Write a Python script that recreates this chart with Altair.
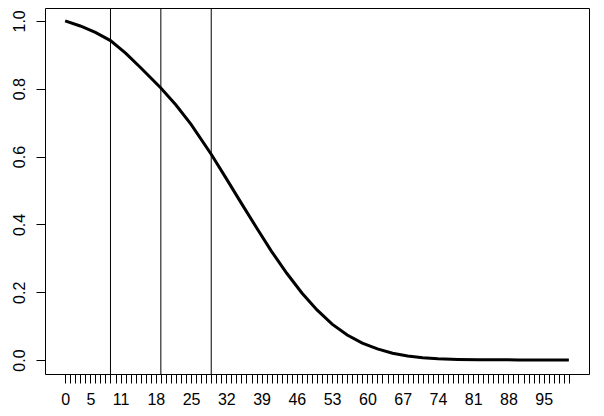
import altair as alt
import pandas as pd

# curve values
curve_x = [0, 3, 6, 9, 12, 15, 19, 22, 25, 29, 32, 35, 38, 41, 44, 47, 50, 53, 56, 59,
           62, 65, 68, 71, 74, 78, 82, 86, 90, 95, 100]
curve_y = [1.000, 0.985, 0.966, 0.942, 0.905, 0.862, 0.802, 0.752, 0.695, 0.607, 0.535,
           0.462, 0.390, 0.320, 0.256, 0.198, 0.148, 0.106, 0.074, 0.050, 0.033, 0.020,
           0.012, 0.007, 0.004, 0.002, 0.001, 0.001, 0.0005, 0.0003, 0.0]

vlines = [9, 19, 29]
x_ticks = list(range(0, 101))
x_labels = [0, 5, 11, 18, 25, 32, 39, 46, 53, 60, 67, 74, 81, 88, 95]
y_ticks = [0.0, 0.2, 0.4, 0.6, 0.8, 1.0]

curve_df = pd.DataFrame({"x": curve_x, "y": curve_y})
vline_df = pd.DataFrame({"x": vlines})

FONT = "Liberation Sans"

label_list = "[" + ",".join(str(v) for v in x_labels) + "]"

x_scale = alt.Scale(domain=[-4, 104], nice=False, zero=False)
y_scale = alt.Scale(domain=[-0.041, 1.038], nice=False, zero=False)

x_axis = alt.Axis(
    values=x_ticks, tickCount=500, format="d",
    labelExpr=f"indexof({label_list}, datum.value) >= 0 ? datum.label : ''",
    title=None, grid=False, domain=False,
    tickSize=9, tickColor="black", tickWidth=1,
    labelOverlap=False, labelFlush=False,
    labelFont=FONT, labelFontSize=16, labelColor="black", labelPadding=8,
)
y_axis = alt.Axis(
    values=y_ticks, tickCount=50, format=".1f",
    title=None, grid=False, domain=False,
    tickSize=9, tickColor="black", tickWidth=1,
    labelAngle=270, labelAlign="center", labelBaseline="bottom",
    labelOverlap=False, labelFlush=False,
    labelFont=FONT, labelFontSize=16, labelColor="black", labelPadding=9,
)

line = alt.Chart(curve_df).mark_line(color="black", strokeWidth=3, clip=True).encode(
    x=alt.X("x:Q", scale=x_scale, axis=x_axis),
    y=alt.Y("y:Q", scale=y_scale, axis=y_axis),
)

rules = alt.Chart(vline_df).mark_rule(color="black", strokeWidth=1).encode(
    x=alt.X("x:Q", scale=x_scale),
)

chart = alt.layer(rules, line).properties(
    width=544, height=366,
    padding={"left": 37, "top": 0, "right": 7, "bottom": 34},
    autosize=alt.AutoSizeParams(type="none"),
    background="white",
).configure_view(stroke="black", strokeWidth=1)

chart.save("out.html", embed_options={"renderer": "svg", "actions": False})
